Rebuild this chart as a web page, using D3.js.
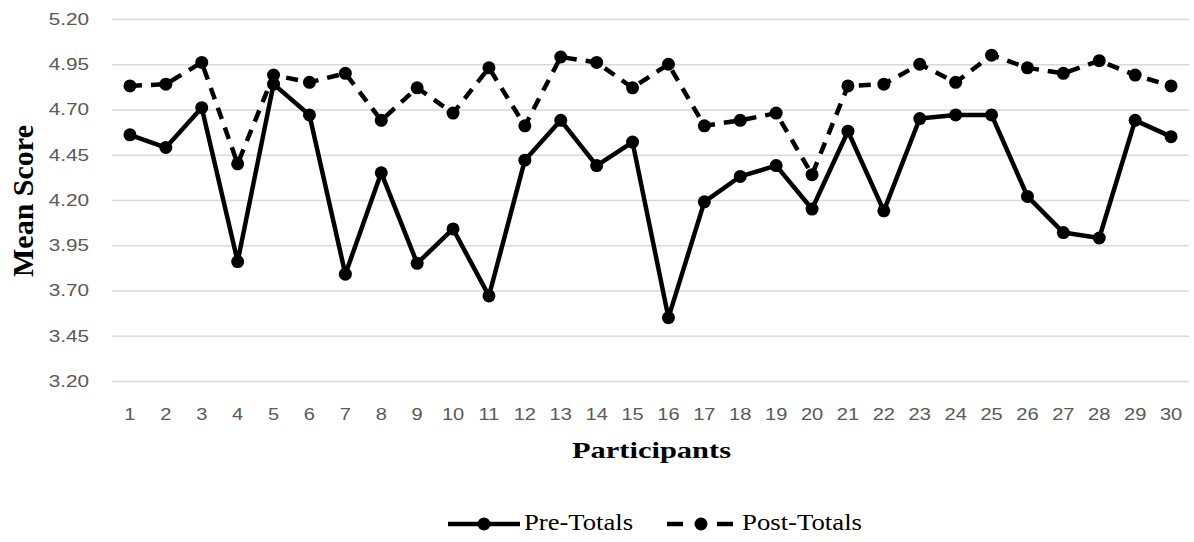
<!DOCTYPE html>
<html>
<head>
<meta charset="utf-8">
<script src="https://cdn.jsdelivr.net/npm/d3@7"></script>
<style>
  html, body { margin: 0; padding: 0; background: #fff; }
  svg { display: block; }
</style>
</head>
<body>
<svg id="chart" width="1194" height="542"></svg>
<script>
const categories = ["1","2","3","4","5","6","7","8","9","10","11","12","13","14","15","16","17","18","19","20","21","22","23","24","25","26","27","28","29","30"];
const preTotals = [4.56,4.49,4.71,3.86,4.84,4.67,3.79,4.35,3.85,4.04,3.67,4.42,4.64,4.39,4.52,3.55,4.19,4.33,4.39,4.15,4.58,4.14,4.65,4.67,4.67,4.22,4.02,3.99,4.64,4.55];
const postTotals = [4.83,4.84,4.96,4.40,4.89,4.85,4.90,4.64,4.82,4.68,4.93,4.61,4.99,4.96,4.82,4.95,4.61,4.64,4.68,4.34,4.83,4.84,4.95,4.85,5.00,4.93,4.90,4.97,4.89,4.83];
const yTicks = [3.20,3.45,3.70,3.95,4.20,4.45,4.70,4.95,5.20];
const seriesNames = ["Pre-Totals","Post-Totals"];
const yTitle = "Mean Score";
const xTitle = "Participants";

(function() {
const svg = d3.select("#chart");
const mL = 112, mR = 1189, mT = 19, mB = 381;

const x = d3.scaleBand().domain(categories).range([mL, mR]);
const y = d3.scaleLinear().domain([3.2, 5.2]).range([mB, mT]);
const cx = c => x(c) + x.bandwidth() / 2;

function stretch(sel, f) {
  sel.each(function() {
    const w = this.getComputedTextLength();
    d3.select(this).attr("textLength", w * f).attr("lengthAdjust", "spacingAndGlyphs");
  });
}

// gridlines
svg.append("g")
  .attr("transform", `translate(${mL},0)`)
  .call(d3.axisLeft(y).tickValues(yTicks).tickSize(-(mR - mL)).tickFormat(""))
  .call(g => g.select(".domain").remove())
  .call(g => g.selectAll("line").attr("stroke", "#d9d9d9").attr("stroke-width", 1.5));

// y axis labels
const yAxis = svg.append("g")
  .attr("transform", `translate(${mL},0)`)
  .call(d3.axisLeft(y).tickValues(yTicks).tickSize(0).tickPadding(23).tickFormat(d3.format(".2f")))
  .call(g => g.select(".domain").remove());
yAxis.selectAll("text")
  .attr("fill", "#595959")
  .style("font-family", "'Liberation Sans', Arial, sans-serif")
  .style("font-size", "17px");
stretch(yAxis.selectAll("text"), 1.22);

// x axis labels
const xAxis = svg.append("g")
  .attr("transform", `translate(0,${mB})`)
  .call(d3.axisBottom(x).tickSize(0).tickPadding(27))
  .call(g => g.select(".domain").remove());
xAxis.selectAll("text")
  .attr("fill", "#595959")
  .style("font-family", "'Liberation Sans', Arial, sans-serif")
  .style("font-size", "17px");
stretch(xAxis.selectAll("text"), 1.18);

// titles
svg.append("text")
  .attr("transform", `translate(33,201) rotate(-90)`)
  .attr("text-anchor", "middle")
  .style("font-family", "'Liberation Serif', 'Times New Roman', serif")
  .style("font-weight", "bold")
  .style("font-size", "30px")
  .attr("fill", "#000")
  .text(yTitle);

svg.append("text")
  .attr("x", (mL + mR) / 2 + 1)
  .attr("y", 458)
  .attr("text-anchor", "middle")
  .style("font-family", "'Liberation Serif', 'Times New Roman', serif")
  .style("font-weight", "bold")
  .style("font-size", "24px")
  .attr("fill", "#000")
  .attr("textLength", 159).attr("lengthAdjust", "spacingAndGlyphs")
  .text(xTitle);

// lines
const line = d3.line().x((d, i) => cx(categories[i])).y(d => y(d));

function drawSeries(vals, dashed) {
  svg.append("path")
    .datum(vals)
    .attr("d", line)
    .attr("fill", "none")
    .attr("stroke", "#000")
    .attr("stroke-width", 4.5)
    .attr("stroke-linejoin", "round")
    .attr("stroke-dasharray", dashed ? "12,9" : null);
  svg.append("g").selectAll("circle")
    .data(vals)
    .join("circle")
    .attr("cx", (d, i) => cx(categories[i]))
    .attr("cy", d => y(d))
    .attr("r", 6.5)
    .attr("fill", "#000");
}
drawSeries(preTotals, false);
drawSeries(postTotals, true);

// legend
const ly = 524;
const lg = svg.append("g");
lg.append("line").attr("x1", 448).attr("x2", 520).attr("y1", ly).attr("y2", ly)
  .attr("stroke", "#000").attr("stroke-width", 4.5);
lg.append("circle").attr("cx", 484).attr("cy", ly).attr("r", 6.5).attr("fill", "#000");
lg.append("text").attr("x", 524).attr("y", 530)
  .style("font-family", "'Liberation Serif', 'Times New Roman', serif")
  .style("font-size", "23px").attr("fill", "#000")
  .attr("textLength", 109).attr("lengthAdjust", "spacingAndGlyphs")
  .text(seriesNames[0]);

lg.append("line").attr("x1", 667).attr("x2", 733).attr("y1", ly).attr("y2", ly)
  .attr("stroke", "#000").attr("stroke-width", 4.5).attr("stroke-dasharray", "16,34,16");
lg.append("circle").attr("cx", 701).attr("cy", ly).attr("r", 6.5).attr("fill", "#000");
lg.append("text").attr("x", 742).attr("y", 530)
  .style("font-family", "'Liberation Serif', 'Times New Roman', serif")
  .style("font-size", "23px").attr("fill", "#000")
  .attr("textLength", 120).attr("lengthAdjust", "spacingAndGlyphs")
  .text(seriesNames[1]);
})();
</script>
</body>
</html>
